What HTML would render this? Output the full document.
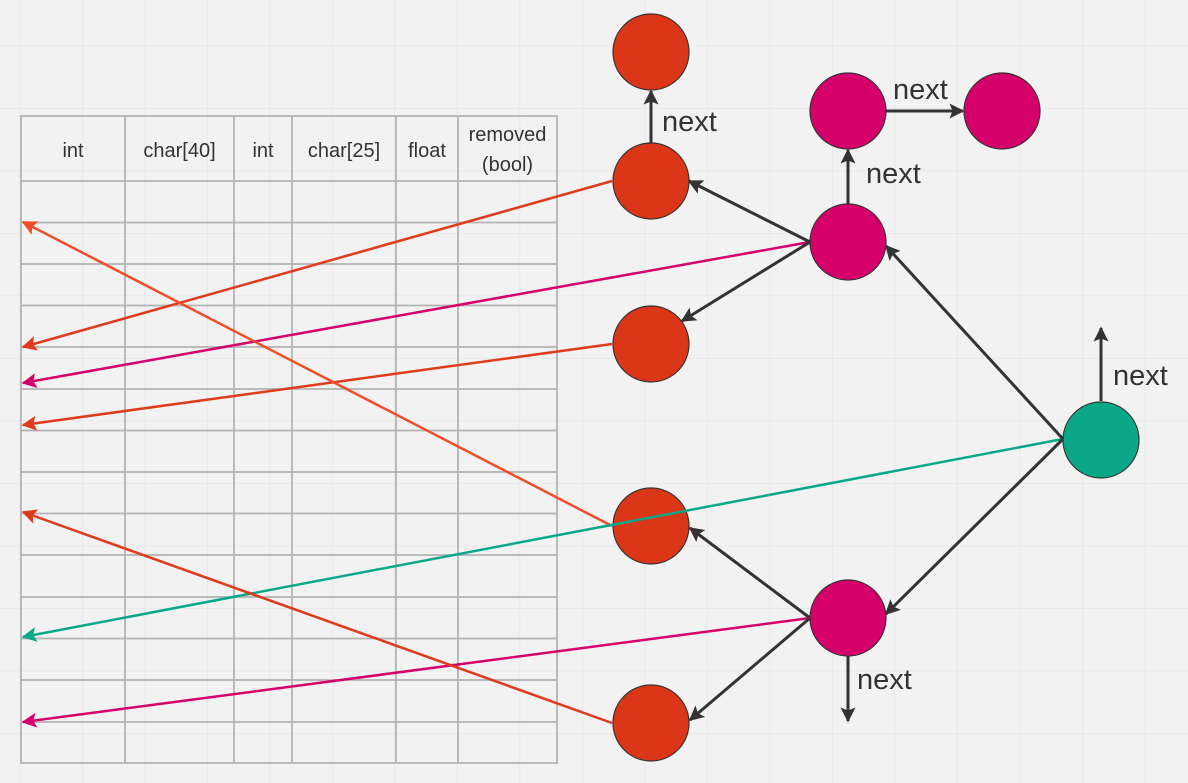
<!DOCTYPE html>
<html><head><meta charset="utf-8"><style>
html,body{margin:0;padding:0;background:#f2f2f2;}
svg{display:block;}
text{font-family:"Liberation Sans","DejaVu Sans",sans-serif;}
</style></head><body>
<svg width="1188" height="783" viewBox="0 0 1188 783" xmlns="http://www.w3.org/2000/svg">
<defs>
<pattern id="g" x="19.5" y="-17" width="62.5" height="62.5" patternUnits="userSpaceOnUse">
<path d="M0 0H62.5M0 0V62.5" stroke="#e6e6e6" stroke-width="1.5" fill="none"/>
</pattern>
<marker id="ad" viewBox="0 0 10 10" refX="9" refY="5" markerWidth="5" markerHeight="5" orient="auto"><path d="M0 0L10 5L0 10L2 5Z" fill="#333"/></marker>
<marker id="ao" viewBox="0 0 10 10" refX="9" refY="5" markerWidth="6" markerHeight="6" orient="auto"><path d="M0 0L10 5L0 10L2 5Z" fill="#e03a1c"/></marker>
<marker id="ao2" viewBox="0 0 10 10" refX="9" refY="5" markerWidth="6" markerHeight="6" orient="auto"><path d="M0 0L10 5L0 10L2 5Z" fill="#f04e2a"/></marker>
<marker id="ap" viewBox="0 0 10 10" refX="9" refY="5" markerWidth="6" markerHeight="6" orient="auto"><path d="M0 0L10 5L0 10L2 5Z" fill="#d6006a"/></marker>
<marker id="ag" viewBox="0 0 10 10" refX="9" refY="5" markerWidth="6" markerHeight="6" orient="auto"><path d="M0 0L10 5L0 10L2 5Z" fill="#0ba887"/></marker>
</defs>
<rect width="1188" height="783" fill="#f2f2f2"/>
<rect width="1188" height="783" fill="url(#g)"/>

<!-- table -->
<g stroke="#b3b3b3" stroke-width="1.8" fill="none">
<rect x="21" y="116" width="536" height="647"/>
<path d="M125 116V763M234 116V763M292 116V763M396 116V763M458 116V763"/>
<path d="M21 181H557M21 222.5H557M21 264H557M21 305.5H557M21 347H557M21 389H557M21 430.5H557M21 472H557M21 513.5H557M21 555H557M21 597H557M21 638.5H557M21 680H557M21 722H557"/>
</g>
<g font-size="20" fill="#333" text-anchor="middle">
<text x="73" y="157">int</text>
<text x="179.5" y="157">char[40]</text>
<text x="263" y="157">int</text>
<text x="344" y="157">char[25]</text>
<text x="427" y="157">float</text>
<text x="507.5" y="141">removed</text>
<text x="507.5" y="171">(bool)</text>
</g>

<!-- nodes -->
<g stroke="#333" stroke-width="1.2">
<circle cx="651" cy="52" r="38" fill="#da3617"/>
<circle cx="651" cy="181" r="38" fill="#da3617"/>
<circle cx="651" cy="344" r="38" fill="#da3617"/>
<circle cx="651" cy="526" r="38" fill="#da3617"/>
<circle cx="651" cy="723" r="38" fill="#da3617"/>
<circle cx="848" cy="111" r="38" fill="#d6006a"/>
<circle cx="1002" cy="111" r="38" fill="#d6006a"/>
<circle cx="848" cy="242" r="38" fill="#d6006a"/>
<circle cx="848" cy="618" r="38" fill="#d6006a"/>
<circle cx="1101" cy="440" r="38" fill="#0ba887"/>
</g>

<!-- colored arrows -->
<g stroke-width="2.5" fill="none">
<line x1="612" y1="181" x2="23" y2="347" stroke="#e03a1c" marker-end="url(#ao)"/>
<line x1="810" y1="242" x2="23" y2="383" stroke="#d6006a" marker-end="url(#ap)"/>
<line x1="612" y1="344" x2="23" y2="425" stroke="#e03a1c" marker-end="url(#ao)"/>
<line x1="612" y1="526" x2="23" y2="222" stroke="#f04e2a" marker-end="url(#ao2)"/>
<line x1="1063" y1="439" x2="23" y2="637" stroke="#0ba887" marker-end="url(#ag)"/>
<line x1="810" y1="618" x2="23" y2="722" stroke="#d6006a" marker-end="url(#ap)"/>
<line x1="612" y1="723" x2="23" y2="512" stroke="#e03a1c" marker-end="url(#ao)"/>
</g>

<!-- dark arrows -->
<g stroke="#333" stroke-width="3" fill="none" marker-end="url(#ad)">
<line x1="651" y1="143" x2="651" y2="91"/>
<line x1="848" y1="204" x2="848" y2="150"/>
<line x1="886" y1="111" x2="963" y2="111"/>
<line x1="810" y1="242" x2="689" y2="181"/>
<line x1="810" y1="242" x2="682" y2="321"/>
<line x1="1063" y1="439" x2="886" y2="246"/>
<line x1="1063" y1="439" x2="886" y2="614"/>
<line x1="1101" y1="401" x2="1101" y2="328"/>
<line x1="810" y1="618" x2="690" y2="528"/>
<line x1="810" y1="618" x2="690" y2="720"/>
<line x1="848" y1="656" x2="848" y2="721"/>
</g>

<g font-size="29" fill="#333">
<text x="662" y="131">next</text>
<text x="893" y="99">next</text>
<text x="866" y="183">next</text>
<text x="1113" y="385">next</text>
<text x="857" y="689">next</text>
</g>
</svg>
</body></html>
